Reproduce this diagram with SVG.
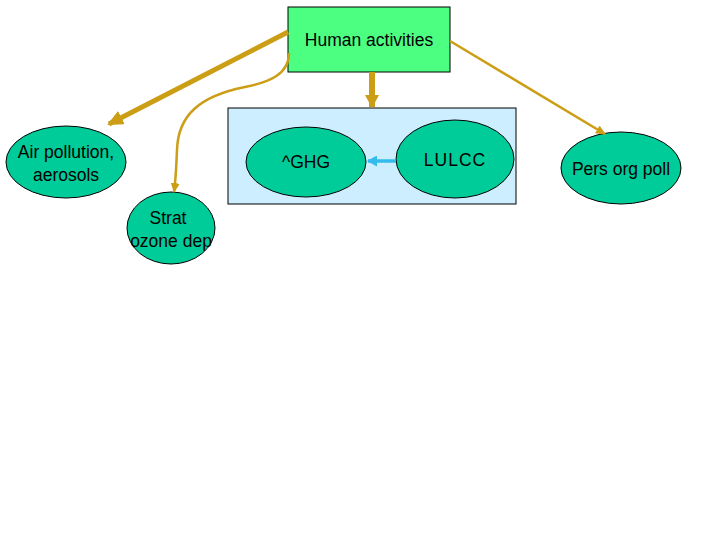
<svg xmlns="http://www.w3.org/2000/svg" width="720" height="540" viewBox="0 0 720 540">
<style>
.node{fill:#00cc99;stroke:#000;stroke-width:1}
.t{font-family:"Liberation Sans",Arial,sans-serif;font-size:17.5px;fill:#000;text-anchor:middle}
.g{fill:none;stroke:#cc9e16}
</style>
<defs>
<marker id="ahL" markerWidth="16" markerHeight="15" refX="14" refY="7.5" orient="auto" markerUnits="userSpaceOnUse"><path d="M0,0 L16,7.5 L0,15 Z" fill="#cc9e16"/></marker>
<marker id="ahD" markerWidth="14" markerHeight="14" refX="12" refY="7" orient="auto" markerUnits="userSpaceOnUse"><path d="M0,0 L13,7 L0,14 Z" fill="#cc9e16"/></marker>
<marker id="ahS" markerWidth="10" markerHeight="9" refX="9" refY="4.5" orient="auto" markerUnits="userSpaceOnUse"><path d="M0,0 L10,4.5 L0,9 Z" fill="#cc9e16"/></marker>
<marker id="ahB" markerWidth="10" markerHeight="11" refX="9" refY="5.5" orient="auto" markerUnits="userSpaceOnUse"><path d="M0,0 L10,5.5 L0,11 Z" fill="#33bbee"/></marker>
</defs>
<rect width="720" height="540" fill="#fff"/>
<g id="climate-box">
<rect x="228" y="108" width="288" height="96" fill="#cceeff" stroke="#000" stroke-width="1"/>
</g>
<g id="human-activities">
<rect x="288" y="7" width="162" height="65" fill="#4dff80" stroke="#000" stroke-width="1"/>
<text class="t" x="369" y="46">Human activities</text>
</g>
<g id="air-pollution">
<ellipse class="node" cx="66" cy="162" rx="60" ry="36"/>
<text class="t" x="66" y="158">Air pollution,</text>
<text class="t" x="66" y="181">aerosols</text>
</g>
<g id="strat-ozone">
<ellipse class="node" cx="171" cy="228" rx="44" ry="36"/>
<text class="t" x="168" y="224">Strat</text>
<text class="t" x="171" y="247">ozone dep</text>
</g>
<g id="ghg">
<ellipse class="node" cx="306" cy="162" rx="60" ry="35"/>
<text class="t" x="306" y="168">^GHG</text>
</g>
<g id="lulcc">
<ellipse class="node" cx="455" cy="159" rx="59" ry="39"/>
<text class="t" x="455" y="166" letter-spacing="1">LULCC</text>
</g>
<g id="pers-org-poll">
<ellipse class="node" cx="621" cy="168" rx="60" ry="36"/>
<text class="t" x="621" y="175">Pers org poll</text>
</g>
<g id="connectors">
<line class="g" x1="288" y1="32" x2="109" y2="124" stroke-width="5" marker-end="url(#ahL)"/>
<path class="g" d="M289,53 C289,74 270,82 245,87 C200,96 178,115 177,150 C176,170 176,178 174,192" stroke-width="2.5" marker-end="url(#ahS)"/>
<line class="g" x1="372" y1="72" x2="372" y2="107" stroke-width="6" marker-end="url(#ahD)"/>
<line class="g" x1="450" y1="41" x2="605" y2="134" stroke-width="2.5" marker-end="url(#ahS)"/>
<line x1="396" y1="161" x2="368" y2="161" stroke="#33bbee" stroke-width="3.5" fill="none" marker-end="url(#ahB)"/>
</g>
</svg>
